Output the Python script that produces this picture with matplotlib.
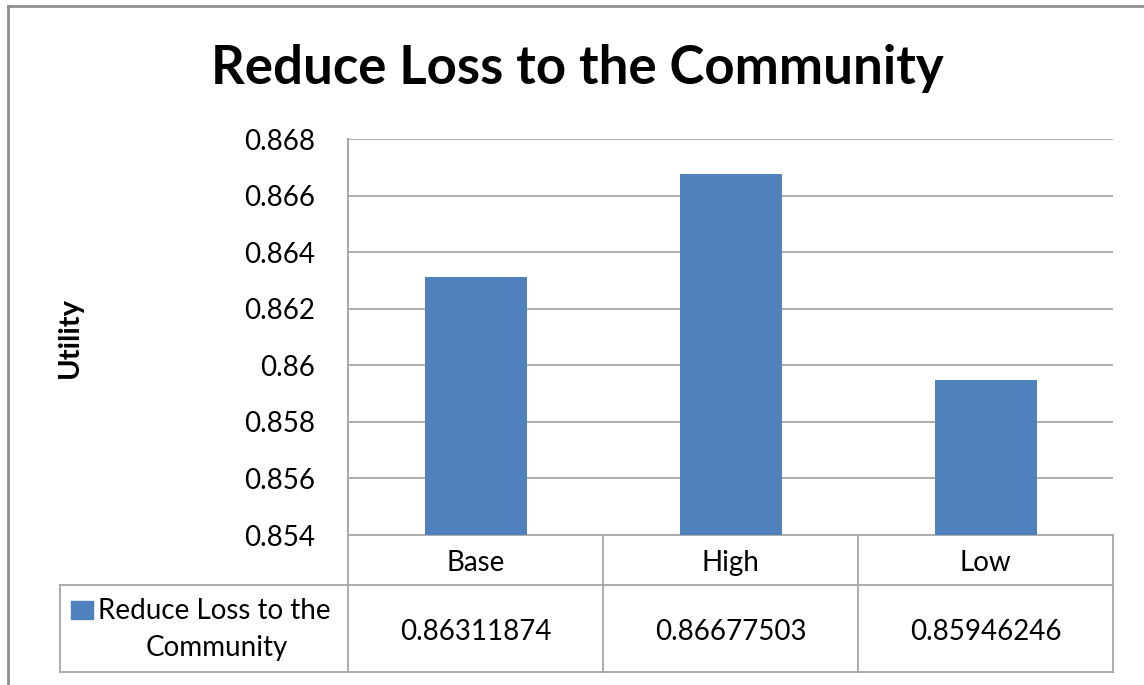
import numpy as np
import matplotlib.pyplot as plt
from matplotlib.lines import Line2D
from matplotlib.patches import Rectangle

categories = ["Base", "High", "Low"]
values = [0.86311874, 0.86677503, 0.85946246]
value_labels = ["0.86311874", "0.86677503", "0.85946246"]
series_name = "Reduce Loss to the Community"
title = "Reduce Loss to the Community"
ylabel = "Utility"
yticks = [0.854, 0.856, 0.858, 0.86, 0.862, 0.864, 0.866, 0.868]
ytick_labels = ["0.854", "0.856", "0.858", "0.86", "0.862", "0.864", "0.866", "0.868"]

bar_color = "#4F81BD"
grid_color = "#A6A6A6"
font = "Lato"
fs = 20

W, H = 1144, 685
fig = plt.figure(figsize=(W / 100, H / 100), dpi=100)

# plot area in pixels
left, right, top, bottom = 348, 1113, 139, 535
ax = fig.add_axes([left / W, 1 - bottom / H, (right - left) / W, (bottom - top) / H])
x = np.arange(len(categories))
ax.bar(x, values, width=0.4, color=bar_color, zorder=3)
ax.set_xlim(-0.5, len(categories) - 0.5)
ax.set_ylim(yticks[0], yticks[-1])
ax.set_yticks(yticks)
ax.set_yticklabels(ytick_labels, fontsize=fs, fontfamily=font)
ax.tick_params(axis="y", length=0, pad=24)
ax.set_xticks([])
ax.grid(axis="y", color=grid_color, linewidth=1.3, zorder=0)
for s in ["top", "right", "bottom"]:
    ax.spines[s].set_visible(False)
ax.spines["left"].set_color(grid_color)
ax.spines["left"].set_linewidth(1.3)

# overlay in pixel coords for title, table, border
ov = fig.add_axes([0, 0, 1, 1], zorder=-1)
ov.set_xlim(0, W)
ov.set_ylim(H, 0)
ov.axis("off")
ov.patch.set_alpha(0)

def hline(x0, x1, y, c=grid_color, lw=1.3):
    ov.add_line(Line2D([x0, x1], [y, y], color=c, linewidth=lw))

def vline(x0, y0, y1, c=grid_color, lw=1.3):
    ov.add_line(Line2D([x0, x0], [y0, y1], color=c, linewidth=lw))

# outer chart border
border = "#8E8E8E"
hline(8, W, 6, border, 2)
vline(8, 6, H, border, 2)

ov.text(577, 68, title, fontsize=38, fontweight="bold", fontfamily=font,
        ha="center", va="center")
ov.text(70, 337, ylabel, fontsize=21, fontweight="bold", fontfamily=font,
        rotation=90, ha="center", va="center")

# data table
row1, row2, row3 = bottom, 585, 672
leg_left = 60
colw = (right - left) / len(categories)
hline(left, right, row1)
hline(leg_left, right, row2)
hline(leg_left, right, row3)
vline(leg_left, row2, row3)
vline(left, top, row3)
for i in range(1, len(categories) + 1):
    vline(left + i * colw, row1, row3)
for i, (c, v) in enumerate(zip(categories, value_labels)):
    cx = left + (i + 0.5) * colw
    ov.text(cx, (row1 + row2) / 2 + 3, c, fontsize=fs, fontfamily=font,
            ha="center", va="center")
    ov.text(cx, (row2 + row3) / 2 + 4, v, fontsize=fs, fontfamily=font,
            ha="center", va="center")

ov.add_patch(Rectangle((71, 601), 22, 18, color=bar_color))
words = series_name.split(" ")
ov.text(98, 611, " ".join(words[:-1]), fontsize=fs, fontfamily=font,
        ha="left", va="center")
ov.text(217, 648, words[-1], fontsize=fs, fontfamily=font,
        ha="center", va="center")

fig.savefig("out.png", dpi=100)
